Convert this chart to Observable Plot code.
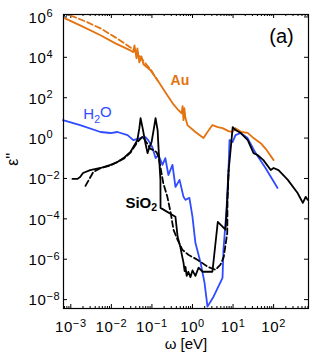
<!DOCTYPE html>
<html><head><meta charset="utf-8">
<script src="https://cdn.jsdelivr.net/npm/d3@7"></script>
<script src="https://cdn.jsdelivr.net/npm/@observablehq/plot@0.6"></script>
<style>
body{margin:0;background:#fff;}
#chart svg{display:block;}
</style></head><body><div id="chart"></div>
<script>
// ---- data ----
const auSolidOmega = [7.2e-4,1.7e-3,5.4e-3,0.0126,0.0295,0.0347,0.0371,0.0417,0.0437,0.049,0.055,0.0617,0.092,0.138,0.214,0.321,0.45,0.54,0.57,0.60,0.63,0.67,0.75,1.18,1.87,2.34,3.1,4.2,5.5,7.7,9.7,11.5,16,23,32,48,67,100];
const auSolidEps   = [8.5e5,3.8e5,1.23e5,4.9e4,2.2e4,1.8e4,3.9e4,8.9e3,2.8e4,5.6e3,1.1e4,4.5e3,2.3e3,730,186,54,24,17,38,7.7,30,9.8,4.4,2.0,1.0,2.0,4.4,3.5,3.1,2.2,2.0,3.1,2.0,1.8,1.0,0.56,0.26,0.081];
const auDashOmega  = [9.8e-4,2.3e-3,5.4e-3,0.0126,0.0295,0.0437,0.069,0.092,0.138];
const auDashEps    = [1.18e6,6e5,2.7e5,9.7e4,3.1e4,1.6e4,5e3,2.6e3,700];
const h2oOmega = [6.4e-4,1.7e-3,5.4e-3,9.5e-3,0.0141,0.0251,0.0347,0.0525,0.069,0.081,0.102,0.123,0.145,0.182,0.214,0.255,0.321,0.38,0.48,0.60,0.67,0.84,1.0,1.18,1.58,1.98,2.34,3.3,5.5,5.8,6.9,7.7,8.2,9.7,11.5,15.3,22.8,36,63,125];
const h2oEps   = [7.8,4.4,2.0,1.78,2.0,1.41,0.79,1.0,1.12,0.79,0.36,0.102,0.145,0.047,0.102,0.0148,0.047,3.8e-3,8.5e-3,1.23e-3,8.7e-4,1.1e-3,1.26e-4,6.5e-6,6.8e-7,6.9e-8,4.5e-9,1.4e-8,1.2e-7,2.9e-6,2.8e-4,0.026,0.80,0.63,1.41,1.78,1.0,0.18,0.033,3.4e-3];
const sio2SolidOmega = [1.1e-3,1.45e-3,1.7e-3,2.0e-3,3.0e-3,5.4e-3,9.5e-3,0.0141,0.020,0.0295,0.0437,0.049,0.0525,0.059,0.069,0.078,0.087,0.098,0.110,0.123,0.138,0.145,0.162,0.163,0.38,0.43,0.50,0.56,0.60,0.64,0.67,0.72,0.79,0.89,1.0,1.18,1.41,1.78,3.1,4.2,6.5,7.2,7.8,8.7,9.8,11.5,15.5,23,32,40,56,85,100,132,224,390,525,617,690];
const sio2SolidEps   = [9.5e-3,9.5e-3,0.0117,0.0186,0.026,0.033,0.047,0.065,0.102,0.204,0.79,3.1,9.8,3.1,0.56,0.18,0.36,0.63,2.5,9.8,2.5,0.36,8.5e-3,3.5e-4,1.26e-4,1.3e-5,4.2e-6,1.3e-6,6.8e-7,2.6e-7,4.2e-7,1.5e-7,2.4e-7,1.3e-7,2.8e-7,1.5e-7,3.8e-7,2.4e-7,2.4e-7,7e-5,2.9e-5,8.7e-4,0.026,0.26,3.5,2.5,1.78,0.79,0.18,0.145,0.081,0.026,0.033,0.026,8.5e-3,1.9e-3,6.2e-4,1.23e-3,8.7e-4];
const sio2DashOmega = [2.3e-3,3.6e-3,5.4e-3,9.5e-3,0.020,0.0295,0.0437,0.059,0.078,0.09,0.11,0.13,0.145,0.162,0.19,0.24,0.29,0.34,0.43,0.56,0.79,1.32,2.34,3.7,4.9,5.9,7.2,7.3,7.8];
const sio2DashEps   = [4.3e-3,0.021,0.032,0.044,0.095,0.19,0.63,1.2,0.5,0.3,0.25,0.2,0.12,0.037,6e-3,1.23e-3,2.0e-4,2.9e-5,9.1e-6,3.0e-6,1.66e-6,9.5e-7,4.3e-7,3.0e-7,5.4e-7,1.3e-6,2.0e-5,8.7e-4,0.026];

const xTickValues = [1e-3,1e-2,1e-1,1e0,1e1,1e2];
const yTickValues = [1e-8,1e-6,1e-4,1e-2,1e0,1e2,1e4,1e6];
const xDomain = [10**-3.18, 10**2.86];
const yDomain = [10**-8.44, 10**6.12];

// ---- layout ----
const W = 313, H = 356, mL = 63, mR = 5, mT = 14, mB = 48;
const innerW = W - mL - mR, innerH = H - mT - mB;
const orange = "#e3720f", blue = "#2f4cff";
const series = (om, ep) => om.map((w, i) => ({w, e: ep[i]}));

const xMinor = [];
for (let d = -4; d <= 2; d++) for (let k = 2; k <= 9; k++) {
  const v = k * 10 ** d; if (v >= xDomain[0] && v <= xDomain[1]) xMinor.push(v);
}
const expOf = d => Math.round(Math.log10(d));
const fmt = d => "10^" + expOf(d);

const lineOpts = {x: "w", y: "e", strokeWidth: 1.8, strokeLinejoin: "round"};

const chart = Plot.plot({
  width: W, height: H,
  marginLeft: mL, marginRight: mR, marginTop: mT, marginBottom: mB,
  style: {fontFamily: "'Liberation Sans', Arial, Helvetica, sans-serif", fontSize: "15px", color: "black", background: "white"},
  x: {type: "log", domain: xDomain, axis: null},
  y: {type: "log", domain: yDomain, axis: null},
  marks: [
    Plot.text(xTickValues, {x: d => d, text: fmt, frameAnchor: "bottom", dy: 19, textAnchor: "middle", lineAnchor: "middle", fontSize: 15}),
    Plot.text(yTickValues, {y: d => d, text: fmt, frameAnchor: "left", dx: -35, dy: 1, textAnchor: "start", lineAnchor: "middle", fontSize: 15}),
    Plot.tickX(xTickValues, {x: d => d, insetTop: innerH - 4, stroke: "black"}),
    Plot.tickX(xTickValues, {x: d => d, insetBottom: innerH - 4, stroke: "black"}),
    Plot.tickX(xMinor, {x: d => d, insetTop: innerH - 2, stroke: "black"}),
    Plot.tickX(xMinor, {x: d => d, insetBottom: innerH - 2, stroke: "black"}),
    Plot.tickY(yTickValues, {y: d => d, insetRight: innerW - 4, stroke: "black"}),
    Plot.tickY(yTickValues, {y: d => d, insetLeft: innerW - 4, stroke: "black"}),
    Plot.line(series(auSolidOmega, auSolidEps), {...lineOpts, stroke: orange}),
    Plot.line(series(auDashOmega, auDashEps), {...lineOpts, stroke: orange, strokeDasharray: "6,3"}),
    Plot.line(series(h2oOmega, h2oEps), {...lineOpts, stroke: blue}),
    Plot.line(series(sio2DashOmega, sio2DashEps), {...lineOpts, stroke: "black", strokeDasharray: "6,3"}),
    Plot.line(series(sio2SolidOmega, sio2SolidEps), {...lineOpts, stroke: "black"}),
    Plot.frame({stroke: "black", strokeWidth: 1.2}),
    Plot.text([{w: 0.49, e: 731, t: "Au"}], {x: "w", y: "e", text: "t", fill: orange, fontWeight: "bold", fontSize: 14}),
    Plot.text([{w: 2.04e-3, e: 15.3, t: "H2O"}], {x: "w", y: "e", text: "t", fill: blue, fontSize: 15, textAnchor: "start"}),
    Plot.text([{w: 0.0222, e: 6.2e-4, t: "SiO2"}], {x: "w", y: "e", text: "t", fill: "black", fontWeight: "bold", fontSize: 15, textAnchor: "start"}),
    Plot.text(["(a)"], {text: d => d, frameAnchor: "top-right", dx: -27, dy: 22, textAnchor: "middle", lineAnchor: "middle", fontSize: 20}),
    Plot.text(["ω [eV]"], {text: d => d, frameAnchor: "bottom", dy: 36, textAnchor: "middle", lineAnchor: "middle", fontSize: 15}),
    Plot.text([{e: 0.09, t: "ε''"}], {y: "e", text: "t", frameAnchor: "left", dx: -51, rotate: -90, textAnchor: "middle", lineAnchor: "middle", fontSize: 16})
  ]
});
document.getElementById("chart").appendChild(chart);

// superscripts on tick labels, subscripts on chemical formulas
const ns = "http://www.w3.org/2000/svg";
d3.select(chart).selectAll("text").each(function() {
  const el = this;
  const s = el.textContent;
  let m = /^10\^(-?\d+)$/.exec(s);
  if (m) {
    el.setAttribute("font-size", "15px");
    el.setAttribute("letter-spacing", "0.6px");
    el.textContent = "10";
    const t = document.createElementNS(ns, "tspan");
    t.setAttribute("dy", "-0.5em");
    t.setAttribute("font-size", "11px");
    t.textContent = m[1].replace("-", "\u2212");
    el.appendChild(t);
    return;
  }
  m = /^([A-Za-z]+)2([A-Za-z]*)$/.exec(s);
  if (m && (s === "H2O" || s === "SiO2")) {
    el.textContent = m[1];
    const t = document.createElementNS(ns, "tspan");
    t.setAttribute("dy", "0.35em");
    t.setAttribute("font-size", "70%");
    t.textContent = "2";
    el.appendChild(t);
    if (m[2]) {
      const t2 = document.createElementNS(ns, "tspan");
      t2.setAttribute("dy", "-0.35em");
      t2.textContent = m[2];
      el.appendChild(t2);
    }
  }
});
</script></body></html>
